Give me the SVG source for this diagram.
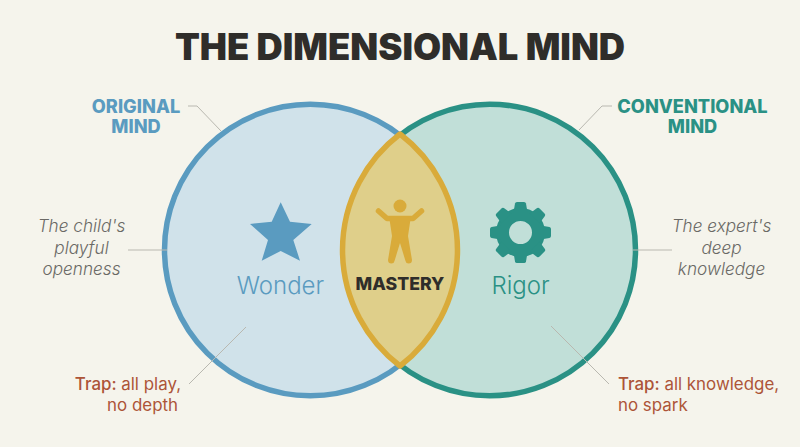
<svg xmlns="http://www.w3.org/2000/svg" width="800" height="447" viewBox="0 0 800 447">
<defs><style>
text{font-family:"Inter","Liberation Sans",sans-serif;text-anchor:middle}
.head{font-size:18.2px;font-weight:800}
.desc{font-size:17.2px;font-style:italic;fill:#6a6965;font-weight:300}
.trap{font-size:16.9px;fill:#ad5438;text-anchor:end}
.lab{font-size:24px;font-weight:300}
.c{fill:none;stroke:#b9b8b0;stroke-width:1}
</style>
<path id="tooth" d="M-7 -20L-5.500 -29Q-5.200 -30.500 -3.500 -30.500H3.500Q5.200 -30.500 5.500 -29L7 -20Z" fill="#2a9185"/>
</defs>
<rect width="800" height="447" fill="#f5f4ec"/>
<text id="title" x="400" y="59.500" font-size="36.300" font-weight="900" fill="#2f2d2a">THE DIMENSIONAL MIND</text>
<g id="circle-original"><circle cx="310.300" cy="250" r="145.800" fill="#d0e2ea" stroke="#5a9bc0" stroke-width="5.500"/></g>
<g id="circle-conventional"><circle cx="489.700" cy="250" r="145.800" fill="#c1dfd8" stroke="#2a9185" stroke-width="5.500"/></g>
<g id="connectors">
<path class="c" d="M188 106H197L221 131"/>
<path class="c" d="M128 250H167"/>
<path class="c" d="M189 384L246 327"/>
<path class="c" d="M612 106H602L579 130"/>
<path class="c" d="M672 250H633"/>
<path class="c" d="M609 384L551 326"/>
</g>
<g id="mastery">
<path d="M400 134A145.800 145.800 0 0 1 400 366A145.800 145.800 0 0 1 400 134Z" fill="#dfcf8a" stroke="#d9ab3a" stroke-width="5.500" stroke-linejoin="round"/>
<circle cx="400" cy="206" r="6.500" fill="#d9ab3a"/>
<path d="M378.500 211L387 218.500H413L421.500 211" fill="none" stroke="#d9ab3a" stroke-width="5.500" stroke-linecap="round" stroke-linejoin="round"/>
<path d="M389 216H411L408 236L412 260Q412 263.500 408.500 263.500Q406 263.500 405.500 261L400 243L394.500 261Q394 263.500 391.500 263.500Q388 263.500 388 260L392 236Z" fill="#d9ab3a"/>
<text x="400" y="289.500" font-size="17.700" font-weight="800" fill="#2f2d2a">MASTERY</text>
</g>
<g id="wonder">
<path d="M280.700 202.300L290 221.700L311.700 224L293.300 240L300 260.700L280.700 251L261.700 260.700L268 240L250 224L271.700 221.700Z" fill="#5a9bc0"/>
<text class="lab" x="280.500" y="294" fill="#5a9bc0">Wonder</text>
</g>
<g id="rigor">
<g transform="translate(520.500 232.500)">
<circle r="18" fill="none" stroke="#2a9185" stroke-width="13"/>
<use href="#tooth"/><use href="#tooth" transform="rotate(45)"/><use href="#tooth" transform="rotate(90)"/><use href="#tooth" transform="rotate(135)"/><use href="#tooth" transform="rotate(180)"/><use href="#tooth" transform="rotate(225)"/><use href="#tooth" transform="rotate(270)"/><use href="#tooth" transform="rotate(315)"/>
</g>
<text class="lab" x="520.500" y="294" fill="#2a9185">Rigor</text>
</g>
<g id="label-original"><text class="head" x="136" y="113" fill="#5a9bc0">ORIGINAL</text><text class="head" x="136" y="133" fill="#5a9bc0">MIND</text></g>
<g id="label-conventional"><text class="head" x="692.500" y="113" fill="#2a9185">CONVENTIONAL</text><text class="head" x="692.500" y="133" fill="#2a9185">MIND</text></g>
<g id="desc-child"><text class="desc" x="81.500" y="232">The child's</text><text class="desc" x="81.500" y="254">playful</text><text class="desc" x="81.500" y="275">openness</text></g>
<g id="desc-expert"><text class="desc" x="721.500" y="232">The expert's</text><text class="desc" x="721.500" y="254">deep</text><text class="desc" x="721.500" y="275">knowledge</text></g>
<g id="trap-left"><text class="trap" x="181" y="390"><tspan font-weight="500">Trap:</tspan> all play,</text><text class="trap" x="178" y="411">no depth</text></g>
<g id="trap-right"><text class="trap" x="618" y="390" style="text-anchor:start"><tspan font-weight="500">Trap:</tspan> all knowledge,</text><text class="trap" x="618" y="411" style="text-anchor:start">no spark</text></g>
</svg>
